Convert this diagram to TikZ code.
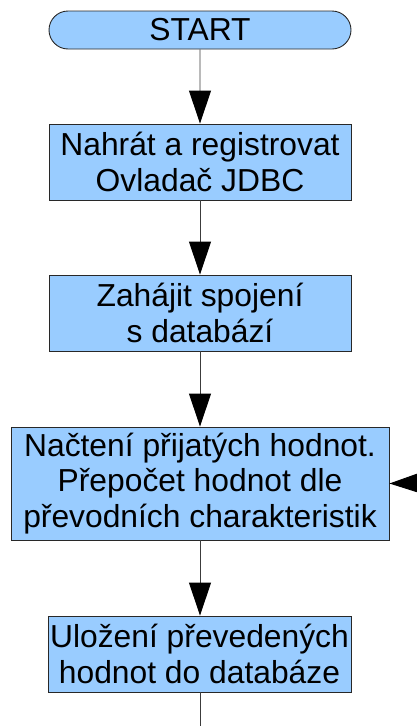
\documentclass[tikz,border=0pt]{standalone}
\usepackage{fontspec}
\setmainfont{Liberation Sans}
\usetikzlibrary{arrows.meta,shapes.misc}
\definecolor{boxfill}{RGB}{153,204,255}
\definecolor{edge}{RGB}{40,40,40}
\definecolor{wire}{RGB}{60,60,60}
\begin{document}
\begin{tikzpicture}[x=1pt,y=-1pt,
  every node/.style={font=\fontsize{31.8}{35.5}\selectfont, align=center, inner sep=0pt},
  stepbox/.style={draw=edge, line width=0.9pt, fill=boxfill, rectangle},
  termbox/.style={draw=edge, line width=0.9pt, fill=boxfill, rounded rectangle},
  flow/.style={draw=wire, line width=0.9pt,
    -{Triangle[length=33pt,width=22pt,color=black,fill=black]}}]
\useasboundingbox (0,0) rectangle (417,726);

\node[termbox, minimum width=302pt, minimum height=38pt] (start) at (200,30) {START};
\node[stepbox, minimum width=302pt, minimum height=76pt] (load) at (200,162)
  {Nahrát a registrovat\\Ovladač JDBC};
\node[stepbox, minimum width=302pt, minimum height=76pt] (conn) at (200,313)
  {Zahájit spojení\\s databází};
\node[stepbox, minimum width=378pt, minimum height=113pt] (read) at (200,483.5)
  {Načtení přijatých hodnot.\\Přepočet hodnot dle\\ převodních charakteristik};
\node[stepbox, minimum width=303pt, minimum height=76pt] (save) at (199.5,654)
  {Uložení převedených\\hodnot do databáze};

\coordinate (loopin) at (417,483);
\coordinate (down) at (200,726);

\draw[flow] (start) -- (load);
\draw[flow] (load) -- (conn);
\draw[flow] (conn) -- (read);
\draw[flow] (read) -- (save.north -| read.south);
\draw[flow] (loopin) -- (read.east);
\draw[draw=wire, line width=0.9pt] (save.south -| read.south) -- (down);
\end{tikzpicture}
\end{document}
